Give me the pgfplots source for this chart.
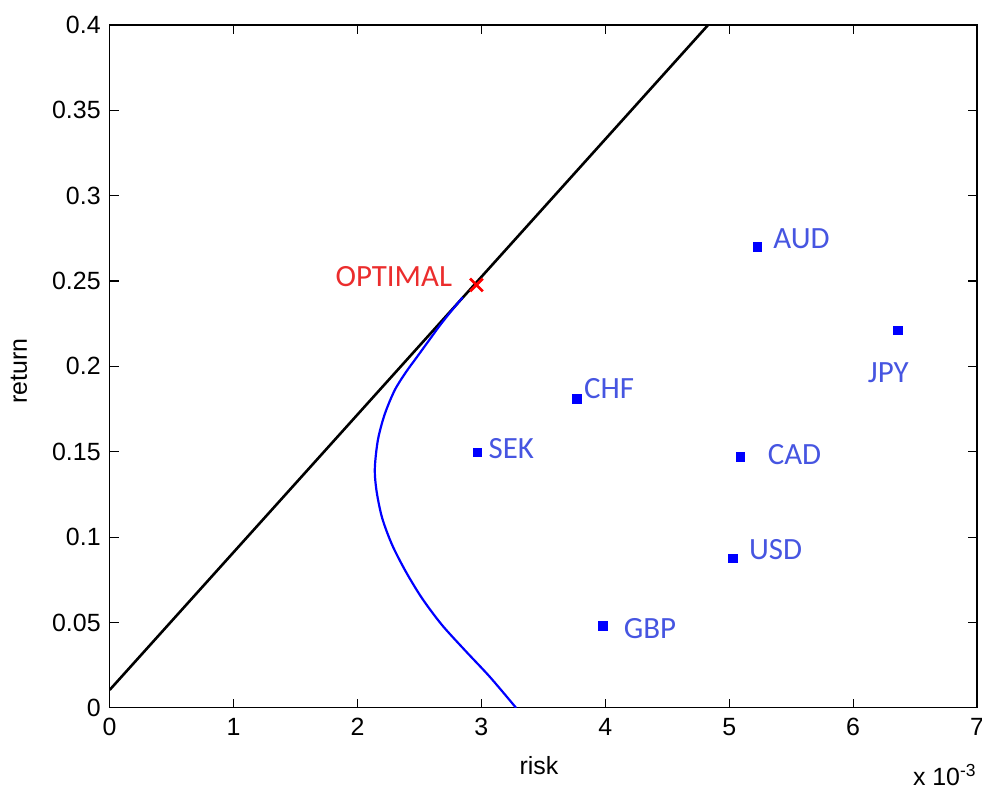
\documentclass[border=0pt]{standalone}
\usepackage{pgfplots}
\pgfplotsset{compat=1.18}
\usepackage{fontspec}
\setmainfont{Liberation Sans}
\newfontfamily\calib{Carlito}
\definecolor{lblblue}{RGB}{70,85,225}
\definecolor{lblred}{RGB}{235,45,45}
\begin{document}
\begin{tikzpicture}
\begin{axis}[
  scale only axis,
  width=435pt, height=342.5pt,
  xmin=0, xmax=7, ymin=0, ymax=0.4,
  xtick={0,1,2,3,4,5,6,7},
  ytick={0,0.05,0.1,0.15,0.2,0.25,0.3,0.35,0.4},
  yticklabels={0,0.05,0.1,0.15,0.2,0.25,0.3,0.35,0.4},
  scaled y ticks=false,
  tick align=inside,
  xtick pos=both, ytick pos=both,
  major tick length=4.5pt,
  tick style={black, line width=0.6pt},
  axis line style={black, line width=0.6pt},
  tick label style={font=\fontsize{12.5}{14}\selectfont},
  /pgf/number format/assume math mode=true,
  xticklabel style={yshift=-1.5pt},
  yticklabel style={xshift=-1pt},
  xlabel={risk}, ylabel={return},
  every axis x label/.style={at={(axis description cs:0.495,-0.0847)}, anchor=center, font=\fontsize{12.5}{14}\selectfont},
  every axis y label/.style={at={(axis description cs:-0.1046,0.493)}, anchor=center, rotate=90, font=\fontsize{12.5}{14}\selectfont},
  clip=true,
]
% capital market line
\addplot[black, line width=1.3pt] coordinates {(0,0.0105) (4.85,0.4016)};
% efficient frontier
\addplot[blue, line width=1.1pt, smooth] coordinates {
 (3.28,0.0) (3.07,0.0180) (2.87,0.0335) (2.68,0.0487) (2.52,0.0643)
 (2.39,0.0798) (2.28,0.0954) (2.20,0.111) (2.155,0.1265) (2.14,0.140)
 (2.165,0.157) (2.22,0.172) (2.30,0.186) (2.39,0.1965) (2.48,0.2055)
 (2.57,0.2145) (2.66,0.2235) (2.75,0.2318) (2.85,0.2405)};
% currencies
\addplot[only marks, mark=square*, mark size=2.1pt, blue] coordinates {
 (5.23,0.270) (6.36,0.221) (3.77,0.181) (2.97,0.1495)
 (5.09,0.147) (5.03,0.0876) (3.98,0.048)};
% optimal
\addplot[only marks, mark=x, mark size=4.5pt, red, line width=1.4pt] coordinates {(2.96,0.2477)};
\begin{scope}[every node/.style={font=\calib\fontsize{15.5}{17}\selectfont, inner sep=0pt}]
\node[text=lblblue] at (axis cs:5.583,0.2745) {AUD};
\node[text=lblblue] at (axis cs:6.284,0.1962) {JPY};
\node[text=lblblue] at (axis cs:4.031,0.1869) {CHF};
\node[text=lblblue] at (axis cs:3.242,0.1518) {SEK};
\node[text=lblblue] at (axis cs:5.527,0.1483) {CAD};
\node[text=lblblue] at (axis cs:5.374,0.0927) {USD};
\node[text=lblblue] at (axis cs:4.360,0.0467) {GBP};
\node[text=lblred] at (axis cs:2.293,0.2526) {OPTIMAL};
\end{scope}
\coordinate (SW) at (rel axis cs:0,0);
\coordinate (NE) at (rel axis cs:1,1);
\coordinate (SE) at (rel axis cs:1,0);
\end{axis}
\node[anchor=base east, inner sep=0pt, font=\fontsize{12.5}{14}\selectfont] at ([yshift=-39pt]SE) {x 10\textsuperscript{-3}};
\pgfresetboundingbox
\path[use as bounding box] ([shift={(-55pt,-41pt)}]SW) rectangle ([shift={(2.5pt,12.5pt)}]NE);
\end{tikzpicture}
\end{document}
